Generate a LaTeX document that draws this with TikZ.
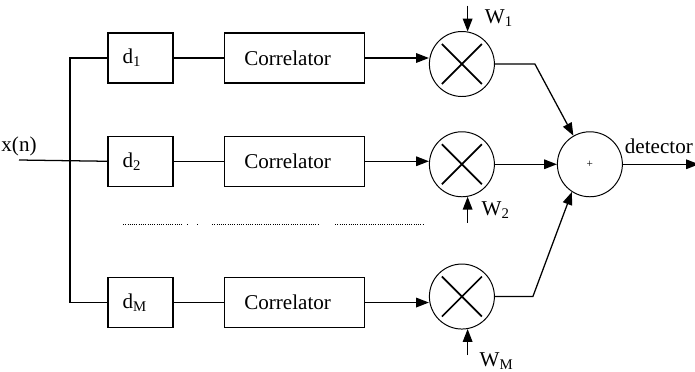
\documentclass[tikz,border=0pt]{standalone}
\usepackage{fontspec}
\setmainfont{Liberation Serif}
\usetikzlibrary{arrows.meta,calc,positioning}
\newcommand{\sigfont}{\fontsize{15}{18}\selectfont}
\tikzset{
  delaybox/.style={draw, line width=0.9pt, minimum width=16.25mm, minimum height=12.5mm, text width=9mm, align=left, inner sep=0pt, font=\sigfont},
  corrbox/.style={draw, line width=0.9pt, minimum width=35mm, minimum height=12.5mm, text width=25mm, align=left, inner sep=0pt, font=\sigfont},
  multnode/.style={draw, circle, line width=0.7pt, minimum size=16.25mm, inner sep=0pt,
    path picture={\draw[line width=1.2pt] ($(path picture bounding box.center)+(-5mm,-5mm)$) -- ($(path picture bounding box.center)+(5mm,5mm)$)
      ($(path picture bounding box.center)+(-5mm,5mm)$) -- ($(path picture bounding box.center)+(5mm,-5mm)$);}},
  sumnode/.style={draw, circle, line width=0.7pt, minimum size=16.25mm, inner sep=0pt, font=\fontsize{8}{8}\selectfont},
  sigline/.style={line width=0.9pt},
  sigarrow/.style={-{Triangle[length=3.2mm, width=2.4mm]}, line width=0.9pt},
  siglabel/.style={font=\sigfont, inner sep=1pt},
  dotrow/.style={densely dotted, line width=0.6pt}
}

\begin{document}
\begin{tikzpicture}[x=0.25mm, y=-0.25mm]
  \useasboundingbox (0,0) rectangle (695,371);
  \node[delaybox] (d1) at (140.5,58) {d\textsubscript{1}};
  \node[delaybox, below=13mm of d1] (d2) {d\textsubscript{2}};
  \node[delaybox, below=22.5mm of d2] (dM) {d\textsubscript{M}};
  \node[corrbox, right=12.5mm of d1] (c1) {Correlator};
  \node[corrbox, right=12.5mm of d2] (c2) {Correlator};
  \node[corrbox, right=12.5mm of dM] (cM) {Correlator};
  \node[multnode, right=16mm of c1, yshift=-1.5mm] (m1) {};
  \node[multnode, right=16mm of c2, yshift=-0.75mm] (m2) {};
  \node[multnode, right=16mm of cM, yshift=1.5mm] (mM) {};
  \node[sumnode, right=15.5mm of m2] (sum) {+};
  \coordinate (in) at (19,160);
  \coordinate (split) at (70,160);
  \coordinate (k1) at ($(m1.east)+(10mm,0mm)$);
  \coordinate (kM) at ($(mM.east)+(9.5mm,0mm)$);
  \coordinate (out) at ($(sum.east)+(19mm,0mm)$);
  \coordinate (w1) at ($(m1.80)+(0mm,6.5mm)$);
  \coordinate (w2) at ($(m2.-80)+(0mm,-6.5mm)$);
  \coordinate (wM) at ($(mM.-80)+(0mm,-6.5mm)$);
  \node[siglabel, anchor=south, yshift=0.5mm] (xn) at (in) {x(n)};
  \draw[sigline] (in) -- (d2.west);
  \draw[sigline] (d1.west) -| (split) |- (dM.west);
  \foreach \r in {1,2,M}{
    \draw[sigline] (d\r.east) -- (c\r.west);
    \draw[sigarrow] (c\r.east) -- (c\r.east -| m\r.west);
  }
  \draw[sigarrow] (m1.east) -- (k1) -- (sum.120);
  \draw[sigarrow] (m2.east) -- (sum.west);
  \draw[sigarrow] (mM.east) -- (kM) -- (sum.237);
  \draw[sigarrow] (sum.east) -- (out) node[pos=0, anchor=south west, yshift=2.2mm, siglabel] {detector};
  \draw[sigarrow] (w1) -- (m1.80) node[midway, right=3.8mm, siglabel] {W\textsubscript{1}};
  \draw[sigarrow] (w2) -- (m2.-80) node[midway, right=3mm, siglabel] {W\textsubscript{2}};
  \draw[sigarrow] (wM) -- (mM.-80) node[pos=0, anchor=north west, xshift=2.5mm, yshift=1.2mm, siglabel] {W\textsubscript{M}};
  \draw[dotrow] (123,224) -- (182,224);
  \draw[dotrow] (187,224) -- (189,224);
  \draw[dotrow] (197,224) -- (199,224);
  \draw[dotrow] (212,224) -- (318,224);
  \draw[dotrow] (335,224) -- (424,224);
\end{tikzpicture}
\end{document}
